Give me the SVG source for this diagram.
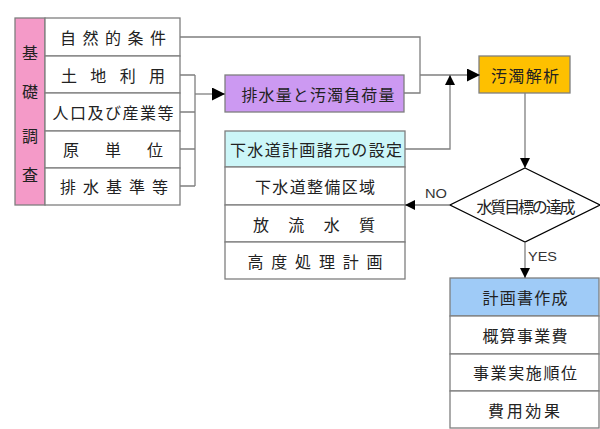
<svg xmlns="http://www.w3.org/2000/svg" width="600" height="429" viewBox="0 0 600 429">
<style>
.box{stroke:#7f7f7f;stroke-width:1.3}
.ln{fill:none;stroke:#7f7f7f;stroke-width:1.3}
.t{font-family:"Noto Sans CJK JP","Noto Sans CJK SC",sans-serif;font-size:16px;fill:#222;text-anchor:middle;dominant-baseline:central}
.s{font-family:"Liberation Sans",Arial,sans-serif;font-size:13px;fill:#333}
</style>
<defs>
<marker id="ah" viewBox="0 0 10 10" refX="10" refY="5" markerWidth="10" markerHeight="10" markerUnits="userSpaceOnUse" orient="auto">
<path d="M0,0L10,5L0,10z" fill="#000"/>
</marker>
<marker id="ahb" viewBox="0 0 10 10" refX="10" refY="5" markerWidth="13" markerHeight="13" markerUnits="userSpaceOnUse" orient="auto">
<path d="M0,0L10,5L0,10z" fill="#000"/>
</marker>
</defs>
<rect width="600" height="429" fill="#fff"/>

<g id="kiso">
<rect class="box" x="15" y="18" width="30" height="187" fill="#f49ac8"/>
<text class="t" x="30" y="52">基</text>
<text class="t" x="30" y="91">礎</text>
<text class="t" x="30" y="135">調</text>
<text class="t" x="30" y="174">査</text>
</g>
<g id="shizen">
<rect class="box" x="45" y="18" width="135" height="38" fill="#fff"/>
<text class="t" x="113" y="37" textLength="106" lengthAdjust="spacing">自然的条件</text>
</g>
<g id="tochi">
<rect class="box" x="45" y="56" width="135" height="37" fill="#fff"/>
<text class="t" x="113" y="75" textLength="104" lengthAdjust="spacing">土地利用</text>
</g>
<g id="jinko">
<rect class="box" x="45" y="93" width="135" height="38" fill="#fff"/>
<text class="t" x="113" y="112" textLength="121" lengthAdjust="spacing">人口及び産業等</text>
</g>
<g id="gentani">
<rect class="box" x="45" y="131" width="135" height="37" fill="#fff"/>
<text class="t" x="113" y="149" textLength="100" lengthAdjust="spacing">原単位</text>
</g>
<g id="haisui">
<rect class="box" x="45" y="168" width="135" height="37" fill="#fff"/>
<text class="t" x="114" y="186" textLength="108" lengthAdjust="spacing">排水基準等</text>
</g>

<g id="fuka">
<rect class="box" x="225" y="75" width="179" height="37" fill="#cc99f2"/>
<text class="t" x="318" y="94" font-size="17" textLength="153" lengthAdjust="spacing">排水量と汚濁負荷量</text>
</g>

<g id="shogen">
<rect class="box" x="225" y="131" width="180" height="36" fill="#ccf6f8"/>
<text class="t" x="316" y="149" font-size="17" textLength="172" lengthAdjust="spacing">下水道計画諸元の設定</text>
</g>
<g id="seibi">
<rect class="box" x="225" y="167" width="180" height="38" fill="#fff"/>
<text class="t" x="315" y="186" textLength="120" lengthAdjust="spacing">下水道整備区域</text>
</g>
<g id="horyu">
<rect class="box" x="225" y="205" width="180" height="37" fill="#fff"/>
<text class="t" x="314" y="224" textLength="122" lengthAdjust="spacing">放流水質</text>
</g>
<g id="kodo">
<rect class="box" x="225" y="242" width="180" height="37" fill="#fff"/>
<text class="t" x="315" y="261" textLength="135" lengthAdjust="spacing">高度処理計画</text>
</g>

<g id="kaiseki">
<rect class="box" x="479" y="56" width="91" height="37" fill="#fec000"/>
<text class="t" x="525" y="75" font-size="17" textLength="68" lengthAdjust="spacing">汚濁解析</text>
</g>

<g id="mokuhyo">
<polygon points="525,168 600,205 525,242 450,205" fill="#fff" stroke="#000" stroke-width="1.3"/>
<text class="t" x="526" y="206" font-size="14" textLength="99" lengthAdjust="spacing">水質目標の達成</text>
</g>

<g id="keikaku">
<rect class="box" x="450" y="278" width="149" height="38" fill="#9fcbf7"/>
<text class="t" x="525" y="297" textLength="85" lengthAdjust="spacing">計画書作成</text>
</g>
<g id="gaisan">
<rect class="box" x="450" y="316" width="149" height="38" fill="#fff"/>
<text class="t" x="525" y="335" textLength="85" lengthAdjust="spacing">概算事業費</text>
</g>
<g id="junni">
<rect class="box" x="450" y="354" width="149" height="37" fill="#fff"/>
<text class="t" x="525" y="372" textLength="104" lengthAdjust="spacing">事業実施順位</text>
</g>
<g id="koka">
<rect class="box" x="450" y="391" width="149" height="37" fill="#fff"/>
<text class="t" x="524" y="410" textLength="72" lengthAdjust="spacing">費用効果</text>
</g>

<g id="connectors">
<path class="ln" d="M180,37H420V93H404"/>
<path class="ln" d="M420,75H480" marker-end="url(#ahb)"/>
<path class="ln" d="M180,75H195M180,112H195M180,149H195M180,186H195M195,75V186"/>
<path class="ln" d="M195,94H225" marker-end="url(#ahb)"/>
<path class="ln" d="M405,149H450V75" marker-end="url(#ah)"/>
<path class="ln" d="M525,93V168" marker-end="url(#ah)"/>
<path class="ln" d="M450,205H405" marker-end="url(#ah)"/>
<path class="ln" d="M525,242V278" marker-end="url(#ah)"/>
<text class="s" x="425" y="198" textLength="22" lengthAdjust="spacingAndGlyphs">NO</text>
<text class="s" x="528" y="261" textLength="29" lengthAdjust="spacingAndGlyphs">YES</text>
</g>
</svg>
